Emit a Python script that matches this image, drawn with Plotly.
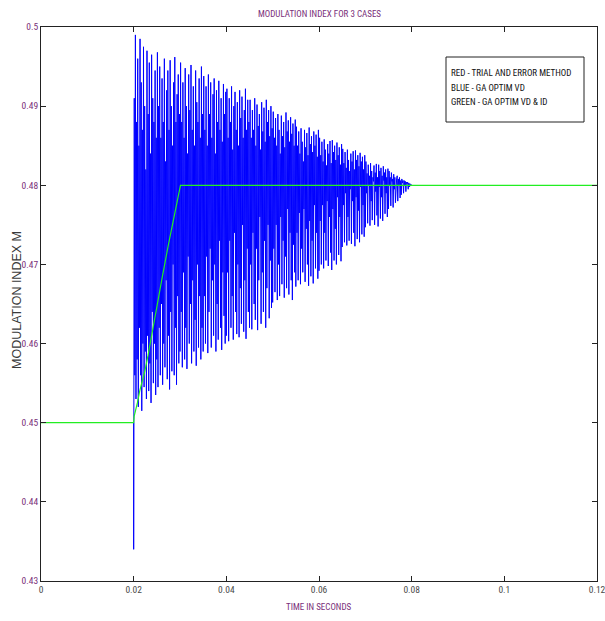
import plotly.graph_objects as go

# ---------------- data ----------------
X_TICKS = [0, 0.02, 0.04, 0.06, 0.08, 0.1, 0.12]
X_TICK_LABELS = ["0", "0.02", "0.04", "0.06", "0.08", "0.1", "0.12"]
Y_TICKS = [0.43, 0.44, 0.45, 0.46, 0.47, 0.48, 0.49, 0.5]
Y_TICK_LABELS = ["0.43", "0.44", "0.45", "0.46", "0.47", "0.48", "0.49", "0.5"]

# blue (GA OPTIM VD): value just before the step
BLUE_PRE_T = [0.02]
BLUE_PRE_M = [0.45]
T_START = 0.02
T_STEP = 0.000125
BLUE_OSC_M = [
    # 0.020 - 0.025
    0.4340, 0.4910, 0.4560, 0.4990, 0.4530, 0.4880, 0.4580, 0.4960, 0.4520, 0.4850,
    0.4620, 0.4985, 0.4560, 0.4930, 0.4515, 0.4870, 0.4600, 0.4975, 0.4545, 0.4900,
    0.4590, 0.4820, 0.4530, 0.4970, 0.4610, 0.4890, 0.4540, 0.4955, 0.4575, 0.4840,
    0.4525, 0.4965, 0.4640, 0.4910, 0.4550, 0.4880, 0.4600, 0.4945, 0.4535, 0.4860,
    # 0.025 - 0.030
    0.4580, 0.4968, 0.4545, 0.4900, 0.4620, 0.4950, 0.4560, 0.4860, 0.4650, 0.4935,
    0.4548, 0.4880, 0.4600, 0.4960, 0.4570, 0.4830, 0.4680, 0.4920, 0.4555, 0.4945,
    0.4610, 0.4870, 0.4542, 0.4958, 0.4640, 0.4900, 0.4565, 0.4850, 0.4700, 0.4930,
    0.4560, 0.4962, 0.4620, 0.4880, 0.4548, 0.4915, 0.4660, 0.4940, 0.4575, 0.4890,
    # 0.030 - 0.035
    0.4590, 0.4955, 0.4640, 0.4880, 0.4570, 0.4930, 0.4690, 0.4860, 0.4580, 0.4948,
    0.4620, 0.4900, 0.4568, 0.4840, 0.4710, 0.4940, 0.4600, 0.4895, 0.4650, 0.4952,
    0.4575, 0.4870, 0.4680, 0.4925, 0.4590, 0.4850, 0.4630, 0.4945, 0.4572, 0.4905,
    0.4700, 0.4880, 0.4595, 0.4935, 0.4660, 0.4860, 0.4580, 0.4950, 0.4620, 0.4890,
    # 0.035 - 0.040
    0.4590, 0.4938, 0.4660, 0.4870, 0.4600, 0.4925, 0.4710, 0.4850, 0.4588, 0.4940,
    0.4640, 0.4890, 0.4720, 0.4930, 0.4595, 0.4860, 0.4680, 0.4915, 0.4610, 0.4935,
    0.4700, 0.4840, 0.4590, 0.4920, 0.4650, 0.4880, 0.4605, 0.4932, 0.4730, 0.4870,
    0.4620, 0.4910, 0.4592, 0.4855, 0.4690, 0.4928, 0.4635, 0.4890, 0.4600, 0.4918,
    # 0.040 - 0.045
    0.4610, 0.4922, 0.4690, 0.4860, 0.4603, 0.4910, 0.4730, 0.4880, 0.4620, 0.4925,
    0.4660, 0.4845, 0.4605, 0.4900, 0.4740, 0.4918, 0.4640, 0.4870, 0.4612, 0.4905,
    0.4700, 0.4850, 0.4608, 0.4920, 0.4670, 0.4885, 0.4625, 0.4912, 0.4750, 0.4860,
    0.4615, 0.4895, 0.4680, 0.4922, 0.4606, 0.4870, 0.4720, 0.4908, 0.4640, 0.4880,
    # 0.045 - 0.050
    0.4620, 0.4908, 0.4700, 0.4860, 0.4618, 0.4895, 0.4740, 0.4870, 0.4650, 0.4910,
    0.4630, 0.4850, 0.4720, 0.4902, 0.4617, 0.4875, 0.4680, 0.4890, 0.4760, 0.4845,
    0.4625, 0.4905, 0.4690, 0.4868, 0.4640, 0.4898, 0.4730, 0.4855, 0.4620, 0.4908,
    0.4670, 0.4880, 0.4750, 0.4895, 0.4632, 0.4862, 0.4705, 0.4900, 0.4645, 0.4872,
    # 0.050 - 0.055
    0.4652, 0.4893, 0.4720, 0.4860, 0.4665, 0.4885, 0.4750, 0.4850, 0.4655, 0.4890,
    0.4700, 0.4870, 0.4660, 0.4840, 0.4760, 0.4888, 0.4675, 0.4862, 0.4730, 0.4880,
    0.4658, 0.4848, 0.4710, 0.4892, 0.4670, 0.4868, 0.4770, 0.4882, 0.4662, 0.4855,
    0.4740, 0.4886, 0.4680, 0.4865, 0.4655, 0.4878, 0.4725, 0.4850, 0.4690, 0.4883,
    # 0.055 - 0.060
    0.4672, 0.4874, 0.4740, 0.4850, 0.4680, 0.4868, 0.4765, 0.4840, 0.4675, 0.4872,
    0.4720, 0.4855, 0.4690, 0.4830, 0.4770, 0.4870, 0.4678, 0.4848, 0.4745, 0.4866,
    0.4700, 0.4838, 0.4673, 0.4873, 0.4755, 0.4852, 0.4685, 0.4862, 0.4730, 0.4842,
    0.4676, 0.4868, 0.4775, 0.4850, 0.4695, 0.4864, 0.4740, 0.4836, 0.4682, 0.4870,
    # 0.060 - 0.065
    0.4692, 0.4860, 0.4755, 0.4838, 0.4700, 0.4855, 0.4775, 0.4830, 0.4695, 0.4858,
    0.4740, 0.4845, 0.4705, 0.4825, 0.4780, 0.4852, 0.4698, 0.4840, 0.4760, 0.4856,
    0.4715, 0.4828, 0.4693, 0.4857, 0.4770, 0.4842, 0.4705, 0.4850, 0.4745, 0.4832,
    0.4700, 0.4854, 0.4785, 0.4838, 0.4712, 0.4848, 0.4760, 0.4826, 0.4704, 0.4852,
    # 0.065 - 0.070
    0.4722, 0.4846, 0.4775, 0.4828, 0.4728, 0.4842, 0.4790, 0.4822, 0.4724, 0.4845,
    0.4760, 0.4832, 0.4730, 0.4818, 0.4795, 0.4840, 0.4726, 0.4830, 0.4780, 0.4843,
    0.4740, 0.4820, 0.4723, 0.4844, 0.4785, 0.4832, 0.4732, 0.4838, 0.4768, 0.4824,
    0.4728, 0.4841, 0.4798, 0.4830, 0.4738, 0.4836, 0.4775, 0.4820, 0.4735, 0.4838,
    # 0.070 - 0.075
    0.4747, 0.4830, 0.4790, 0.4815, 0.4752, 0.4826, 0.4800, 0.4812, 0.4749, 0.4828,
    0.4780, 0.4818, 0.4756, 0.4810, 0.4805, 0.4825, 0.4750, 0.4816, 0.4792, 0.4827,
    0.4762, 0.4810, 0.4748, 0.4826, 0.4798, 0.4818, 0.4758, 0.4822, 0.4785, 0.4812,
    0.4755, 0.4824, 0.4806, 0.4816, 0.4764, 0.4820, 0.4790, 0.4810, 0.4760, 0.4821,
    # 0.075 - 0.080
    0.4770, 0.4818, 0.4800, 0.4810, 0.4774, 0.4816, 0.4805, 0.4808, 0.4772, 0.4814,
    0.4795, 0.4810, 0.4778, 0.4806, 0.4808, 0.4812, 0.4780, 0.4808, 0.4800, 0.4810,
    0.4784, 0.4806, 0.4788, 0.4808, 0.4803, 0.4806, 0.4790, 0.4806, 0.4800, 0.4805,
    0.4792, 0.4804, 0.4802, 0.4804, 0.4795, 0.4803, 0.4798, 0.4802, 0.4799, 0.4801,
]
BLUE_POST_T = [0.08]
BLUE_POST_M = [0.48]

# green (GA OPTIM VD & ID)
GREEN_T = [0.0, 0.02, 0.0201, 0.0204, 0.0208, 0.0213, 0.0218, 0.0224, 0.0231,
           0.0240, 0.0250, 0.0262, 0.0275, 0.0288, 0.0301, 0.12]
GREEN_M = [0.45, 0.45, 0.4508, 0.4515, 0.4525, 0.4540, 0.4550, 0.4565, 0.4585,
           0.4615, 0.4645, 0.4685, 0.4725, 0.4765, 0.48, 0.48]

TITLE = "MODULATION INDEX FOR 3 CASES"
X_TITLE = "TIME IN SECONDS"
Y_TITLE = "MODULATION INDEX M"
LEGEND_LINES = ["RED - TRIAL AND ERROR METHOD", "BLUE - GA OPTIM VD", "GREEN - GA OPTIM VD & ID"]

# ---------------- figure ----------------
NARROW = "Roboto Condensed, Liberation Sans Narrow, Arial Narrow, sans-serif"
PURPLE = "#7a2f7a"

blue_t = BLUE_PRE_T + [T_START + k * T_STEP for k in range(len(BLUE_OSC_M))] + BLUE_POST_T
blue_m = BLUE_PRE_M + BLUE_OSC_M + BLUE_POST_M

fig = go.Figure()
fig.add_trace(go.Scatter(x=blue_t, y=blue_m, mode="lines",
                         line=dict(color="#0000ff", width=1), showlegend=False,
                         hoverinfo="skip"))
fig.add_trace(go.Scatter(x=GREEN_T, y=GREEN_M, mode="lines",
                         line=dict(color="#22ee22", width=1.2), showlegend=False,
                         hoverinfo="skip"))

W, H = 605, 621
ML, MR, MT, MB = 41, 8, 27, 40
pw = W - ML - MR
ph = H - MT - MB

fig.update_layout(
    width=W, height=H,
    margin=dict(l=ML, r=MR, t=MT, b=MB, pad=0),
    paper_bgcolor="white", plot_bgcolor="white",
    showlegend=False,
    font=dict(family=NARROW, size=9, color="#333333"),
    xaxis=dict(range=[0, 0.12], tickvals=X_TICKS, ticktext=X_TICK_LABELS,
               showgrid=False, zeroline=False, showline=True, linecolor="#222",
               linewidth=1, mirror="ticks", ticks="inside", ticklen=5,
               tickcolor="#222", automargin=False, ticklabeloverflow="allow",
               tickfont=dict(family=NARROW, size=9.5, color="#4a4a4a")),
    yaxis=dict(range=[0.43, 0.5], tickvals=Y_TICKS, ticktext=Y_TICK_LABELS,
               showgrid=False, zeroline=False, showline=True, linecolor="#222",
               linewidth=1, mirror="ticks", ticks="inside", ticklen=5,
               tickcolor="#222", automargin=False, ticklabeloverflow="allow",
               tickfont=dict(family=NARROW, size=9.5, color=PURPLE)),
)

# title
fig.add_annotation(text=TITLE, xref="paper", yref="paper",
                   x=0.5, y=1 + (MT - 14) / ph, xanchor="center", yanchor="middle",
                   showarrow=False, font=dict(family=NARROW, size=9, color=PURPLE))
# x title
fig.add_annotation(text=X_TITLE, xref="paper", yref="paper",
                   x=0.5, y=-(607 - (H - MB)) / ph, xanchor="center", yanchor="middle",
                   showarrow=False, font=dict(family=NARROW, size=9, color=PURPLE))
# y title
fig.add_annotation(text=Y_TITLE, xref="paper", yref="paper",
                   x=-(ML - 17) / pw, y=0.5 + 4 / ph, xanchor="center", yanchor="middle",
                   textangle=-90, showarrow=False,
                   font=dict(family="Liberation Sans, Arial, sans-serif", size=12.5, color="#3a3a3a"))

# legend box
def px_x(px):
    return (px - ML) / pw

def px_y(py):
    return 1 - (py - MT) / ph

fig.add_shape(type="rect", xref="paper", yref="paper",
              x0=px_x(446), x1=px_x(584), y0=px_y(122), y1=px_y(57),
              line=dict(color="#222", width=1), fillcolor="white", layer="above")
for i, line_text in enumerate(LEGEND_LINES):
    fig.add_annotation(text=line_text, xref="paper", yref="paper",
                       x=px_x(449), y=px_y(73 + i * 14.5), xanchor="left", yanchor="middle",
                       showarrow=False, font=dict(family=NARROW, size=9, color="#111"))

fig.write_html("out.html", config={"displayModeBar": False},
               post_script="document.body.style.margin='0px';")
